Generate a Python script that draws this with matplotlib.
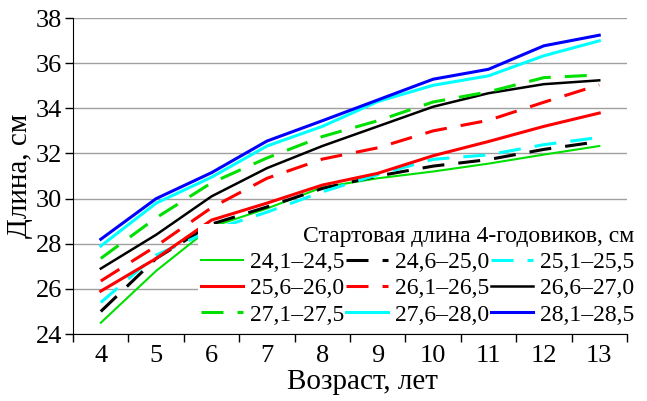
import matplotlib
matplotlib.use('Agg')
import matplotlib.pyplot as plt

# Возраст, лет
ages = [4, 5, 6, 7, 8, 9, 10, 11, 12, 13]

# Длина по группам стартовой длины 4-годовиков, см
len_241_245 = [24.5, 26.8, 28.75, 29.56, 30.5, 30.9, 31.2, 31.55, 31.95, 32.33]
len_246_250 = [25.0, 27.35, 28.87, 29.63, 30.45, 31.0, 31.44, 31.73, 32.18, 32.53]
len_251_255 = [25.4, 27.5, 28.6, 29.4, 30.3, 31.06, 31.74, 31.94, 32.39, 32.71]
len_256_260 = [25.9, 27.35, 29.05, 29.8, 30.6, 31.12, 31.9, 32.53, 33.2, 33.79]
len_261_265 = [26.35, 27.9, 29.6, 30.9, 31.75, 32.25, 33.0, 33.47, 34.27, 35.04]
len_266_270 = [26.9, 28.4, 30.1, 31.35, 32.33, 33.2, 34.07, 34.67, 35.07, 35.24]
len_271_275 = [27.35, 29.15, 30.7, 31.8, 32.75, 33.45, 34.28, 34.73, 35.36, 35.48]
len_276_280 = [27.9, 29.8, 30.95, 32.33, 33.2, 34.3, 35.02, 35.44, 36.33, 36.99]
len_281_285 = [28.2, 30.0, 31.15, 32.55, 33.45, 34.37, 35.29, 35.73, 36.77, 37.24]

labels = ['24,1–24,5', '24,6–25,0', '25,1–25,5',
          '25,6–26,0', '26,1–26,5', '26,6–27,0',
          '27,1–27,5', '27,6–28,0', '28,1–28,5']

series = [len_241_245, len_246_250, len_251_255,
          len_256_260, len_261_265, len_266_270,
          len_271_275, len_276_280, len_281_285]

# цвет, пунктир, толщина
styles = [
    ('#00e000', '-', 1.5),
    ('black', '--', 2.2),
    ('#00ffff', '--', 2.2),
    ('#ff0000', '-', 2.2),
    ('#ff0000', '--', 2.2),
    ('black', '-', 1.8),
    ('#00e000', '--', 2.2),
    ('#00ffff', '-', 2.2),
    ('#0000ff', '-', 2.2),
]

plt.rcParams['font.family'] = ['Liberation Serif', 'DejaVu Serif']

fig = plt.figure(figsize=(6.47, 4.01), dpi=100)
ax = fig.add_axes([0.113, 0.167, 0.856, 0.788])

handles = []
for vals, lab, (col, ls, lw) in zip(series, labels, styles):
    line, = ax.plot(ages, vals, color=col, lw=lw, label=lab)
    if ls == '--':
        line.set_dashes((7.2, 4.6))
    handles.append(line)

ax.set_xlim(3.5, 13.5)
ax.set_ylim(24, 38)
ax.set_yticks(range(24, 39, 2))
ax.set_xticks(ages)
ax.set_xticks([a + 0.5 for a in range(3, 14)], minor=True)
ax.tick_params(axis='x', which='major', length=0, labelsize=19, pad=8)
ax.tick_params(axis='x', which='minor', length=6, width=1, direction='out')
ax.tick_params(axis='y', length=6, width=1, labelsize=19, pad=2)

ax.grid(axis='y', color='#a0a0a0', lw=1)
ax.set_axisbelow(True)
for s in ['top', 'right']:
    ax.spines[s].set_visible(False)

ax.set_xlabel('Возраст, лет', fontsize=21)
ax.set_ylabel('Длина, см', fontsize=21, labelpad=2)
ax.xaxis.set_label_coords(0.523, -0.11)

# легенда: три колонки, заполнение по строкам
order = [0, 3, 6, 1, 4, 7, 2, 5, 8]
leg = ax.legend([handles[i] for i in order], [labels[i] for i in order],
                ncol=3, fontsize=17, title='Стартовая длина 4-годовиков, см',
                title_fontsize=17, alignment='right',
                loc='lower right', bbox_to_anchor=(637 / 647, 73 / 401),
                bbox_transform=fig.transFigure,
                handlelength=1.8, handletextpad=0.3, columnspacing=0.05,
                labelspacing=0.2, borderpad=0.1, borderaxespad=0,
                frameon=True, fancybox=False, framealpha=1,
                facecolor='white', edgecolor='none')
leg.set_zorder(5)

fig.savefig('out.png', dpi=100)
